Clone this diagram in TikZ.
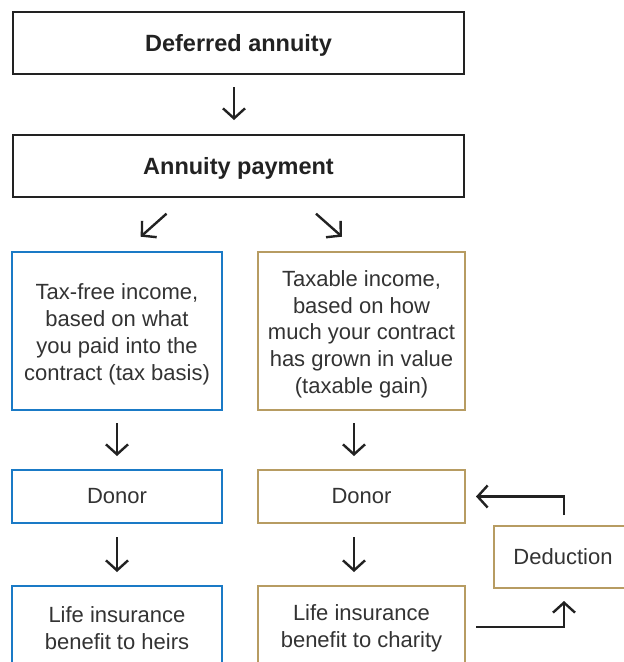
\documentclass[tikz,border=0pt]{standalone}
\usepackage{fontspec}
\setmainfont{Liberation Sans}
\usetikzlibrary{arrows.meta}
\definecolor{bl}{HTML}{1A7AC6}
\definecolor{gd}{HTML}{B79C62}
\definecolor{ink}{HTML}{222222}
\definecolor{txt}{HTML}{333333}
\begin{document}
\begin{tikzpicture}[x=1pt,y=-1pt,
 boxbase/.style={draw, line width=2pt, inner sep=0pt, align=center, font=\fontsize{22}{26.7}\selectfont, text=txt},
 headbox/.style={boxbase, draw=ink, minimum width=451pt, minimum height=62pt, text depth=0pt, font=\fontsize{23.5}{28}\selectfont\bfseries, text=ink},
 bluebox/.style={boxbase, draw=bl, minimum width=210pt},
 goldbox/.style={boxbase, draw=gd, minimum width=207pt},
 dedbox/.style={boxbase, draw=gd, minimum width=138pt, minimum height=62pt},
 arr/.style={draw=ink, line width=2.4pt, -{Straight Barb[length=10pt,width=22pt]}},
]
\useasboundingbox (0,0) rectangle (624,662);
\clip (0,0) rectangle (624,662);
\fill[white] (0,0) rectangle (624,662);

\node[headbox] (top) at (238.5,43) {Deferred annuity};
\node[headbox] (pay) at (238.5,166) {Annuity payment};

\node[bluebox, minimum height=158pt] (tf) at (117,331) {\rule{0pt}{22.5pt}Tax-free income,\\based on what\\you paid into the\\contract (tax basis)};
\node[goldbox, minimum height=158pt] (tx) at (361.5,331) {\rule{0pt}{22.5pt}Taxable income,\\based on how\\much your contract\\has grown in value\\(taxable gain)};

\node[bluebox, minimum height=53pt] (d1) at (117,496.5) {Donor};
\node[goldbox, minimum height=53pt] (d2) at (361.5,496.5) {Donor};

\node[bluebox, minimum height=84pt] (l1) at (117,628) {Life insurance\\benefit to heirs};
\node[goldbox, minimum height=84pt] (l2) at (361.5,628) {Life insurance\\benefit to charity};

\node[dedbox] (ded) at (563,557) {Deduction};

\draw[arr] ([xshift=-4.5pt,yshift=-12pt]top.south) -- ([xshift=-4.5pt,yshift=14pt]pay.north);
\draw[arr] ([xshift=-72pt,yshift=-15.7pt]pay.south) -- ([xshift=23.7pt,yshift=14.3pt]tf.north);
\draw[arr] ([xshift=77.5pt,yshift=-15.7pt]pay.south) -- ([xshift=-19.5pt,yshift=14.3pt]tx.north);

\draw[arr] ([yshift=-12pt]tf.south) -- ([yshift=13pt]d1.north);
\draw[arr] ([xshift=-7.5pt,yshift=-12pt]tx.south) -- ([xshift=-7.5pt,yshift=13pt]d2.north);

\draw[arr] ([yshift=-13pt]d1.south) -- ([yshift=13pt]l1.north);
\draw[arr] ([xshift=-7.5pt,yshift=-13pt]d2.south) -- ([xshift=-7.5pt,yshift=13pt]l2.north);

\draw[arr] ([xshift=1pt,yshift=10pt]ded.north) |- ([xshift=10pt]d2.east);
\draw[arr] ([xshift=10pt,yshift=1pt]l2.east) -| ([xshift=1pt,yshift=-12pt]ded.south);
\end{tikzpicture}
\end{document}
